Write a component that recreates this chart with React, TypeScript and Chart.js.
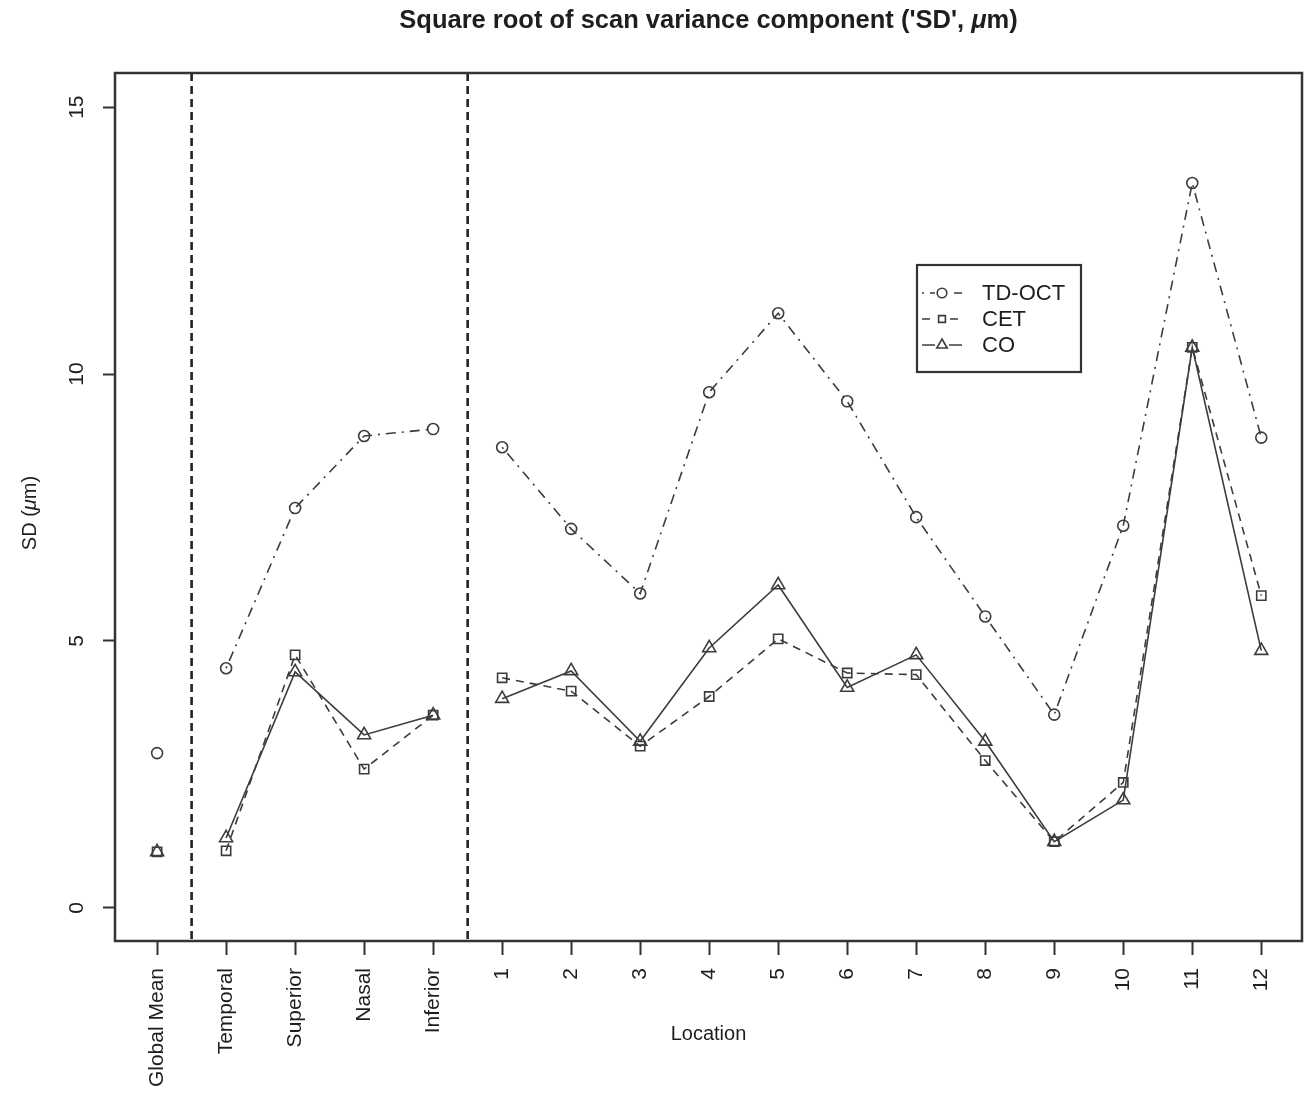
import React, { useEffect, useRef } from 'react';
import { Chart, registerables } from 'chart.js';

Chart.register(...registerables);

// ---------------- data ----------------
const categories = [
  'Global Mean', 'Temporal', 'Superior', 'Nasal', 'Inferior',
  '1', '2', '3', '4', '5', '6', '7', '8', '9', '10', '11', '12',
];
const tdOct = [2.90, 4.49, 7.49, 8.84, 8.97, 8.63, 7.10, 5.89, 9.66, 11.14, 9.49, 7.32, 5.46, 3.62, 7.16, 13.58, 8.81];
const cet = [1.05, 1.07, 4.74, 2.60, 3.61, 4.31, 4.06, 3.03, 3.96, 5.04, 4.40, 4.37, 2.76, 1.24, 2.35, 10.50, 5.85];
const co = [1.05, 1.31, 4.42, 3.24, 3.61, 3.92, 4.44, 3.12, 4.87, 6.05, 4.13, 4.74, 3.12, 1.24, 2.02, 10.50, 4.82];
const yTicks = [0, 5, 10, 15];
const separators = [0.5, 4.5]; // group boundaries (in category units)
const breaksAfter = [0, 4]; // no connecting line after these indices

const titleParts = [
  { t: "Square root of scan variance component ('SD', ", italic: false },
  { t: 'μ', italic: true },
  { t: 'm)', italic: false },
];
const yTitleParts = [
  { t: 'SD (', italic: false },
  { t: 'μ', italic: true },
  { t: 'm)', italic: false },
];
const xTitle = 'Location';

// ---------------- style ----------------
const FAMILY = "'Liberation Sans', Arial, Helvetica, sans-serif";
const INK = '#3c3c3c';
const TEXT = '#1e1e1e';
const W = 1315;
const H = 1093;

const toPoints = (vals: number[]) => vals.map((y, x) => ({ x, y }));

function drawParts(ctx: CanvasRenderingContext2D, parts: { t: string; italic: boolean }[], size: number, bold: boolean) {
  const font = (it: boolean) => `${it ? 'italic ' : ''}${bold ? 'bold ' : ''}${size}px ${FAMILY}`;
  let total = 0;
  const widths = parts.map((p) => {
    ctx.font = font(p.italic);
    const w = ctx.measureText(p.t).width;
    total += w;
    return w;
  });
  let x = -total / 2;
  parts.forEach((p, i) => {
    ctx.font = font(p.italic);
    ctx.fillText(p.t, x, 0);
    x += widths[i];
  });
}

function drawSymbol(ctx: CanvasRenderingContext2D, style: string, x: number, y: number, r: number) {
  ctx.beginPath();
  if (style === 'circle') {
    ctx.arc(x, y, r, 0, Math.PI * 2);
  } else if (style === 'rect') {
    const s = r * Math.SQRT1_2;
    ctx.rect(x - s, y - s, 2 * s, 2 * s);
  } else if (style === 'triangle') {
    ctx.moveTo(x, y - r);
    ctx.lineTo(x + r * 0.866, y + r * 0.5);
    ctx.lineTo(x - r * 0.866, y + r * 0.5);
    ctx.closePath();
  }
  ctx.stroke();
}

const rPlot = {
  id: 'rPlot',
  beforeDatasetsDraw(chart: any) {
    const { ctx, chartArea, scales } = chart;
    ctx.save();
    ctx.strokeStyle = '#222';
    ctx.lineWidth = 2.6;
    ctx.setLineDash([8, 5]);
    separators.forEach((v) => {
      const x = scales.x.getPixelForValue(v);
      ctx.beginPath();
      ctx.moveTo(x, chartArea.top);
      ctx.lineTo(x, chartArea.bottom);
      ctx.stroke();
    });
    ctx.restore();
  },
  afterDraw(chart: any) {
    const { ctx, chartArea, scales } = chart;
    ctx.save();
    // frame
    ctx.strokeStyle = '#333';
    ctx.lineWidth = 2.5;
    ctx.setLineDash([]);
    ctx.strokeRect(chartArea.left, chartArea.top, chartArea.right - chartArea.left, chartArea.bottom - chartArea.top);

    ctx.fillStyle = TEXT;
    // y tick labels (rotated, parallel to axis)
    ctx.font = `21px ${FAMILY}`;
    ctx.textAlign = 'center';
    ctx.textBaseline = 'middle';
    yTicks.forEach((v) => {
      const y = scales.y.getPixelForValue(v);
      ctx.save();
      ctx.translate(77, y);
      ctx.rotate(-Math.PI / 2);
      ctx.fillText(String(v), 0, 0);
      ctx.restore();
    });

    // y title
    ctx.save();
    ctx.textAlign = 'left';
    ctx.textBaseline = 'middle';
    ctx.translate(30, (chartArea.top + chartArea.bottom) / 2 + 6);
    ctx.rotate(-Math.PI / 2);
    drawParts(ctx, yTitleParts, 20, false);
    ctx.restore();

    // main title
    const cx = (chartArea.left + chartArea.right) / 2;
    ctx.save();
    ctx.textAlign = 'left';
    ctx.textBaseline = 'middle';
    ctx.translate(cx, 21);
    drawParts(ctx, titleParts, 25.5, true);
    ctx.restore();

    // x title
    ctx.font = `20px ${FAMILY}`;
    ctx.textAlign = 'center';
    ctx.textBaseline = 'middle';
    ctx.fillText(xTitle, cx, 1034);

    // legend
    const box = { left: 917, top: 265, right: 1081, bottom: 372 };
    ctx.strokeStyle = '#333';
    ctx.lineWidth = 2.2;
    ctx.strokeRect(box.left, box.top, box.right - box.left, box.bottom - box.top);
    chart.data.datasets.forEach((ds: any, i: number) => {
      const y = 293 + i * 26;
      ctx.strokeStyle = ds.borderColor;
      ctx.lineWidth = ds.borderWidth;
      ctx.setLineDash(ds.borderDash || []);
      ctx.beginPath();
      ctx.moveTo(922, y);
      ctx.lineTo(962, y);
      ctx.stroke();
      ctx.setLineDash([]);
      ctx.fillStyle = '#fff';
      ctx.beginPath();
      ctx.rect(935, y - 6, 14, 12);
      ctx.fill();
      ctx.lineWidth = ds.pointBorderWidth;
      drawSymbol(ctx, ds.pointStyle, 942, y, ds.pointStyle === 'triangle' ? 6 : 4.8);
      ctx.fillStyle = TEXT;
      ctx.font = `22px ${FAMILY}`;
      ctx.textAlign = 'left';
      ctx.textBaseline = 'middle';
      ctx.fillText(ds.label, 982, y + 1);
    });
    ctx.restore();
  },
};

const segmentGap = {
  borderColor: (c: any) => (breaksAfter.includes(c.p0DataIndex) ? 'rgba(0,0,0,0)' : undefined),
};

export default function App() {
  const ref = useRef<HTMLCanvasElement | null>(null);

  useEffect(() => {
    if (!ref.current) return;
    const common = {
      borderColor: INK,
      borderWidth: 1.6,
      pointBorderColor: INK,
      pointBackgroundColor: 'rgba(0,0,0,0)',
      pointBorderWidth: 1.6,
      fill: false,
      tension: 0,
      segment: segmentGap,
    };
    const chart = new Chart(ref.current, {
      type: 'line',
      data: {
        datasets: [
          { ...common, label: 'TD-OCT', data: toPoints(tdOct), borderDash: [2, 6, 10, 6], pointStyle: 'circle', pointRadius: 5.5 },
          { ...common, label: 'CET', data: toPoints(cet), borderDash: [8, 6], pointStyle: 'rect', pointRadius: 6.5 },
          { ...common, label: 'CO', data: toPoints(co), borderDash: [], pointStyle: 'triangle', pointRadius: 7.5 },
        ] as any,
      },
      options: {
        responsive: false,
        animation: false,
        events: [],
        layout: { padding: { top: 73, right: 13, left: 0, bottom: 0 } },
        plugins: {
          legend: { display: false },
          title: { display: false },
          tooltip: { enabled: false },
        },
        scales: {
          x: {
            type: 'linear',
            min: -0.61,
            max: 16.59,
            afterFit: (s: any) => { s.height = H - 941; },
            afterBuildTicks: (s: any) => { s.ticks = categories.map((_, i) => ({ value: i })); },
            border: { display: false },
            grid: { display: true, drawOnChartArea: false, drawTicks: true, tickLength: 14, tickColor: '#333', tickWidth: 2 },
            ticks: {
              autoSkip: false,
              minRotation: 90,
              maxRotation: 90,
              padding: 13,
              color: TEXT,
              font: { family: FAMILY, size: 21 },
              callback: (v: any) => categories[Math.round(Number(v))] ?? '',
            },
          },
          y: {
            type: 'linear',
            min: -0.62,
            max: 15.64,
            afterFit: (s: any) => { s.width = 115; },
            afterBuildTicks: (s: any) => { s.ticks = yTicks.map((v) => ({ value: v })); },
            border: { display: false },
            grid: { display: true, drawOnChartArea: false, drawTicks: true, tickLength: 12, tickColor: '#333', tickWidth: 2 },
            ticks: { display: false },
          },
        },
      } as any,
      plugins: [rPlot],
    });
    return () => chart.destroy();
  }, []);

  return (
    <div style={{ position: 'absolute', left: 0, top: 0, width: W, height: H, background: '#fff' }}>
      <canvas ref={ref} width={W} height={H} style={{ display: 'block', width: W, height: H }} />
    </div>
  );
}
